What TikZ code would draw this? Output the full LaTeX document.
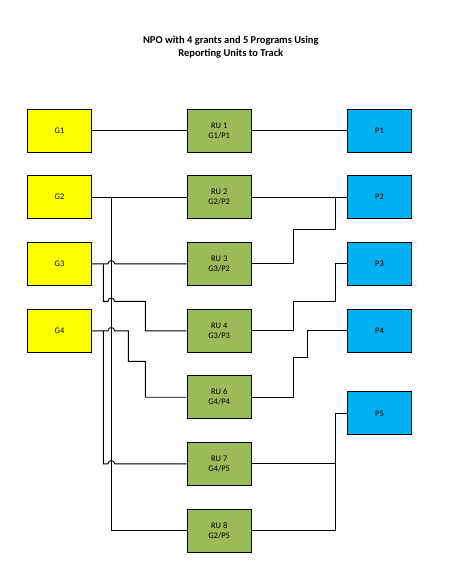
\documentclass[tikz,border=0pt]{standalone}
\usepackage{fontspec}
\setmainfont{Carlito}
\definecolor{grantyellow}{HTML}{FFFF00}
\definecolor{rugreen}{HTML}{9BBB59}
\definecolor{progblue}{HTML}{00B0F0}
\begin{document}
\begin{tikzpicture}
[every node/.style={inner sep=0pt},
 box/.style={rectangle, minimum width=64.4pt, minimum height=43pt, line width=1pt, draw=black, align=center, font=\fontsize{8.5}{10}\selectfont},
 grant/.style={box, fill=grantyellow},
 ru/.style={box, fill=rugreen},
 prog/.style={box, fill=progblue},
 wire/.style={line width=0.9pt, color=black}]
\useasboundingbox (0pt, 0pt) rectangle (448pt, -582pt);
\node (title) [align=center, font=\fontsize{10.5}{13}\selectfont\bfseries] at (230.8pt, -47.2pt) {NPO with 4 grants and 5 Programs Using\\Reporting Units to Track};
\node (G1) [grant] at (59.5pt, -130.8pt) {G1};
\node (G2) [grant] at (59.5pt, -197.2pt) {G2};
\node (G3) [grant] at (59.5pt, -263.8pt) {G3};
\node (G4) [grant] at (59.5pt, -330.8pt) {G4};
\node (RU1) [ru] at (219.2pt, -130.8pt) {RU 1\\G1/P1};
\node (RU2) [ru] at (219.2pt, -197.2pt) {RU 2\\G2/P2};
\node (RU3) [ru] at (219.2pt, -263.8pt) {RU 3\\G3/P2};
\node (RU4) [ru] at (219.2pt, -330.8pt) {RU 4\\G3/P3};
\node (RU6) [ru] at (219.2pt, -397.2pt) {RU 6\\G4/P4};
\node (RU7) [ru] at (219.2pt, -463.8pt) {RU 7\\G4/P5};
\node (RU8) [ru] at (219.2pt, -530.8pt) {RU 8\\G2/P5};
\node (P1) [prog] at (379.5pt, -130.8pt) {P1};
\node (P2) [prog] at (379.5pt, -197.2pt) {P2};
\node (P3) [prog] at (379.5pt, -263.8pt) {P3};
\node (P4) [prog] at (379.5pt, -330.8pt) {P4};
\node (P5) [prog] at (379.5pt, -413.3pt) {P5};
\coordinate (jG2) at (111.3pt, -197.2pt);
\coordinate (jG3) at (103.3pt, -263.8pt);
\coordinate (jG4) at (103.3pt, -330.8pt);
\coordinate (jP2) at (335.3pt, -197.2pt);
\coordinate (jP5) at (335.3pt, -463.8pt);
% grants to reporting units
\draw [wire] (G1) to (RU1);
\draw [wire] (G2) to (RU2);
\draw [wire] (jG2) |- (RU8.west);
\draw [wire] (G3.east) -- (108pt, -263.8pt) arc[start angle=180, end angle=0, radius=3.3pt] -- (RU3.west);
\draw [wire] (jG3) |- (108pt, -301.3pt) arc[start angle=180, end angle=0, radius=3.3pt] -- (145.3pt, -301.3pt) |- (RU4.west);
\draw [wire] (G4.east) -- (108pt, -330.8pt) arc[start angle=180, end angle=0, radius=3.3pt] -- (128.3pt, -330.8pt) |- (145.3pt, -361.3pt) |- (RU6.west);
\draw [wire] (jG4) |- (108pt, -463.8pt) arc[start angle=180, end angle=0, radius=3.3pt] -- (RU7.west);
% reporting units to programs
\draw [wire] (RU1) to (P1);
\draw [wire] (RU2) to (P2);
\draw [wire] (RU3.east) -| (293.3pt, -229.3pt) -| (jP2);
\draw [wire] (RU4.east) -| (293.3pt, -301.3pt) -- (335.3pt, -301.3pt) |- (P3.west);
\draw [wire] (RU6.east) -| (293.3pt, -357.3pt) -- (307.3pt, -357.3pt) |- (P4.west);
\draw [wire] (RU7) to (jP5);
\draw [wire] (RU8.east) -- (335.3pt, -530.8pt) |- (P5.west);
\end{tikzpicture}
\end{document}
